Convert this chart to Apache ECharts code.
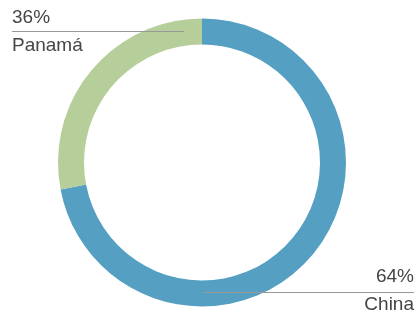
<!DOCTYPE html>
<html>
<head>
<meta charset="utf-8">
<script src="https://cdn.jsdelivr.net/npm/echarts@6/dist/echarts.min.js"></script>
<style>
  html, body { margin: 0; padding: 0; background: #fff; }
  #chart { width: 418px; height: 320px; }
</style>
</head>
<body>
<div id="chart"></div>
<script>
// 数据
var countries = ['China', 'Panamá'];
var sliceValues = [72, 28];          // size of the drawn arcs
var shareLabels = ['64%', '36%'];    // percentages printed next to the ring
var colors = ['#549fc2', '#b6cf9a'];

var myChart = echarts.init(document.getElementById('chart'));

var pieData = countries.map(function (c, i) {
  return { name: c, value: sliceValues[i] };
});

var textStyle = { fontSize: 19, lineHeight: 28, color: '#454545', fontFamily: 'Liberation Sans' };

var option = {
  animation: false,
  color: colors,
  series: [
    // 圆环
    {
      type: 'pie',
      z: 1,
      center: [202, 162.5],
      radius: [118, 144],
      startAngle: 90,
      clockwise: true,
      silent: true,
      itemStyle: { borderWidth: 0 },
      label: { show: false },
      labelLine: { show: false },
      data: pieData
    },
    // 标签 + 引导线 (画在圆环上面)
    {
      type: 'pie',
      z: 5,
      center: [202, 162.5],
      radius: [118, 144],
      startAngle: 90,
      clockwise: true,
      silent: true,
      avoidLabelOverlap: false,
      itemStyle: { color: 'rgba(0,0,0,0)', borderWidth: 0 },
      label: {
        show: true,
        position: 'outside',
        formatter: function (p) {
          return '{p|' + shareLabels[p.dataIndex] + '}\n{n|' + p.name + '}';
        },
        rich: { p: textStyle, n: textStyle }
      },
      labelLine: {
        show: true,
        lineStyle: { color: '#999', width: 1 }
      },
      labelLayout: function (params) {
        if (params.dataIndex === 0) {
          return {
            x: 414, y: 291, align: 'right', verticalAlign: 'middle',
            labelLinePoints: [[204, 292.5], [310, 292.5], [414, 292.5]]
          };
        }
        return {
          x: 12, y: 32, align: 'left', verticalAlign: 'middle',
          labelLinePoints: [[184, 31.5], [100, 31.5], [12, 31.5]]
        };
      },
      data: pieData
    }
  ]
};

myChart.setOption(option);
</script>
</body>
</html>
